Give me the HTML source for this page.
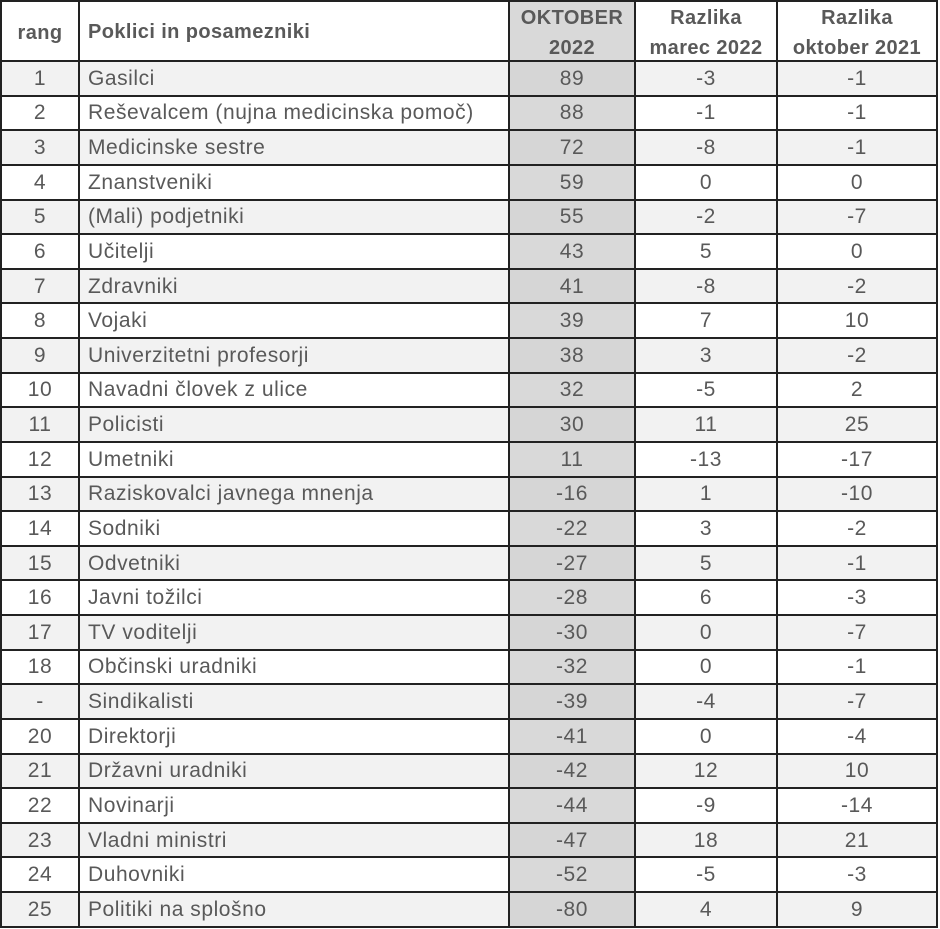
<!DOCTYPE html>
<html><head><meta charset="utf-8">
<style>
html,body{margin:0;padding:0;background:#fff;}
body{width:940px;height:929px;overflow:hidden;position:relative;}
.t{position:absolute;left:0;top:0;width:938px;height:928px;box-sizing:border-box;border-left:2px solid #222;border-top:2px solid #222;
display:grid;grid-template-columns:78px 430px 126px 142px 160px;grid-template-rows:60px repeat(25,34.64px);
font-family:"Liberation Sans",sans-serif;color:#595959;}
.t div{box-sizing:border-box;border-right:2px solid #222;border-bottom:2px solid #222;display:flex;align-items:center;justify-content:center;font-size:21px;letter-spacing:0.55px;white-space:nowrap;overflow:hidden;padding-top:1px;}
.t div.n{justify-content:flex-start;padding-left:8px;}
.t div.h{font-weight:bold;font-size:20px;letter-spacing:0.4px;line-height:30px;text-align:center;flex-direction:column;padding-top:3px;}
.t div.hn{font-weight:bold;font-size:20px;letter-spacing:0.4px;justify-content:flex-start;padding-left:8px;padding-top:3px;}
.t div.g{background:#d9d9d9;}
.t div.s{background:#f2f2f2;}
.t div.s.g{background:#d6d6d6;}
</style></head><body>
<div class="t">
<div class="h">rang</div><div class="hn">Poklici in posamezniki</div><div class="h g"><span>OKTOBER</span><span>2022</span></div><div class="h"><span>Razlika</span><span>marec 2022</span></div><div class="h"><span>Razlika</span><span>oktober 2021</span></div>

<div class="s">1</div><div class="s n">Gasilci</div><div class="s g">89</div><div class="s">-3</div><div class="s">-1</div>
<div>2</div><div class="n">Reševalcem (nujna medicinska pomoč)</div><div class="g">88</div><div>-1</div><div>-1</div>
<div class="s">3</div><div class="s n">Medicinske sestre</div><div class="s g">72</div><div class="s">-8</div><div class="s">-1</div>
<div>4</div><div class="n">Znanstveniki</div><div class="g">59</div><div>0</div><div>0</div>
<div class="s">5</div><div class="s n">(Mali) podjetniki</div><div class="s g">55</div><div class="s">-2</div><div class="s">-7</div>
<div>6</div><div class="n">Učitelji</div><div class="g">43</div><div>5</div><div>0</div>
<div class="s">7</div><div class="s n">Zdravniki</div><div class="s g">41</div><div class="s">-8</div><div class="s">-2</div>
<div>8</div><div class="n">Vojaki</div><div class="g">39</div><div>7</div><div>10</div>
<div class="s">9</div><div class="s n">Univerzitetni profesorji</div><div class="s g">38</div><div class="s">3</div><div class="s">-2</div>
<div>10</div><div class="n">Navadni človek z ulice</div><div class="g">32</div><div>-5</div><div>2</div>
<div class="s">11</div><div class="s n">Policisti</div><div class="s g">30</div><div class="s">11</div><div class="s">25</div>
<div>12</div><div class="n">Umetniki</div><div class="g">11</div><div>-13</div><div>-17</div>
<div class="s">13</div><div class="s n">Raziskovalci javnega mnenja</div><div class="s g">-16</div><div class="s">1</div><div class="s">-10</div>
<div>14</div><div class="n">Sodniki</div><div class="g">-22</div><div>3</div><div>-2</div>
<div class="s">15</div><div class="s n">Odvetniki</div><div class="s g">-27</div><div class="s">5</div><div class="s">-1</div>
<div>16</div><div class="n">Javni tožilci</div><div class="g">-28</div><div>6</div><div>-3</div>
<div class="s">17</div><div class="s n">TV voditelji</div><div class="s g">-30</div><div class="s">0</div><div class="s">-7</div>
<div>18</div><div class="n">Občinski uradniki</div><div class="g">-32</div><div>0</div><div>-1</div>
<div class="s">-</div><div class="s n">Sindikalisti</div><div class="s g">-39</div><div class="s">-4</div><div class="s">-7</div>
<div>20</div><div class="n">Direktorji</div><div class="g">-41</div><div>0</div><div>-4</div>
<div class="s">21</div><div class="s n">Državni uradniki</div><div class="s g">-42</div><div class="s">12</div><div class="s">10</div>
<div>22</div><div class="n">Novinarji</div><div class="g">-44</div><div>-9</div><div>-14</div>
<div class="s">23</div><div class="s n">Vladni ministri</div><div class="s g">-47</div><div class="s">18</div><div class="s">21</div>
<div>24</div><div class="n">Duhovniki</div><div class="g">-52</div><div>-5</div><div>-3</div>
<div class="s">25</div><div class="s n">Politiki na splošno</div><div class="s g">-80</div><div class="s">4</div><div class="s">9</div>
</div>
</body></html>
